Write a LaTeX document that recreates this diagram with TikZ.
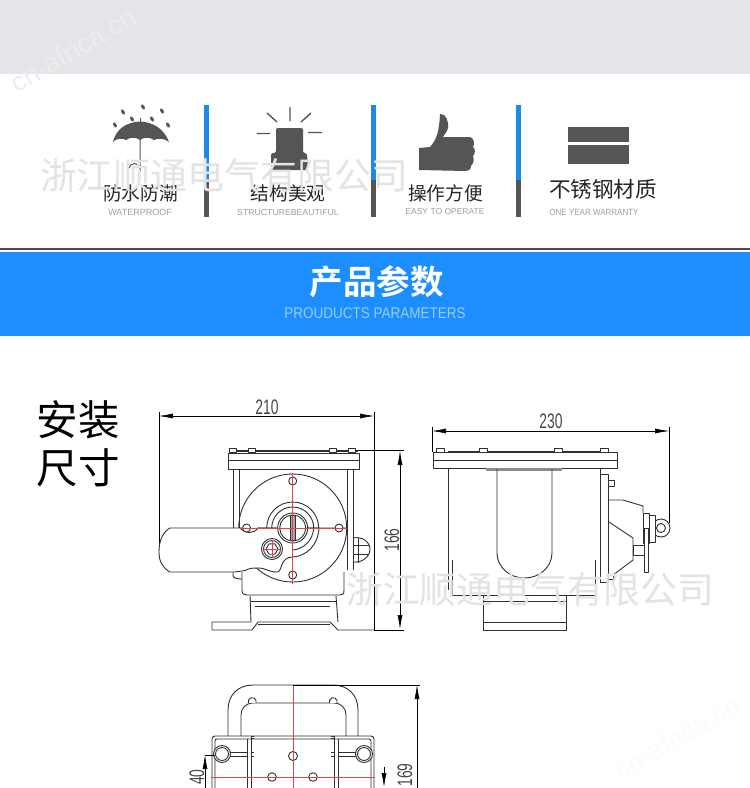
\documentclass[tikz,border=0pt]{standalone}
\usepackage{graphicx}
\usepackage{fontspec}
\setmainfont{Liberation Sans}
\newfontfamily\cjk{Noto Sans CJK SC}
\newfontfamily\cjkb{Noto Sans CJK SC Bold}
\usetikzlibrary{arrows.meta}
\definecolor{blueband}{HTML}{1C8EFF}
\definecolor{barblue}{HTML}{1E88E5}
\definecolor{icon}{HTML}{555555}
\definecolor{linec}{HTML}{303030}
\definecolor{redc}{HTML}{E8404A}
\definecolor{topgray}{HTML}{E4E5E8}
\newcommand{\narrow}[2]{\scalebox{#1}[1]{#2}}
\tikzset{
 draft/.style={draw=linec,line width=.9pt,line join=round},
 redline/.style={draw=redc,line width=.9pt},
 dimline/.style={draw=black,line width=.6pt},
 dimarrow/.style={dimline,{Latex[length=14pt,width=5pt]}-{Latex[length=14pt,width=5pt]}},
 drop/.style={fill=icon,draw=none},
 cntitle/.style={font=\cjk\fontsize{18.7}{18.7}\selectfont,text=black!85,inner sep=0pt},
 entitle/.style={text=black!38,inner sep=0pt},
 dimtext/.style={font=\fontsize{21}{21}\selectfont,text=black!72,inner sep=0pt},
 watermark/.style={font=\cjk\fontsize{36.8}{36.8}\selectfont,text=black!11,inner sep=0pt,anchor=west},
 webmark/.style={font=\fontsize{27}{27}\selectfont,inner sep=0pt,rotate=30},
 bigcn/.style={font=\cjk\fontsize{41.5}{41.5}\selectfont,text=black,inner sep=0pt},
 bar/.style={line width=4.5pt},
}
\begin{document}
\begin{tikzpicture}[x=1pt,y=-1pt]
\useasboundingbox (0,0) rectangle (750,788);
\fill[white] (0,0) rectangle (750,788);
\fill[topgray] (0,0) rectangle (750,74);
\fill[black!70] (0,248.3) rectangle (750,250);
\fill[blueband] (0,251.5) rectangle (750,335.5);
% web watermark
\node[webmark,text=white!30!topgray] (w3) at (73,50) {cn-africa.cn};
\node[webmark,text=black!1.5] (w4) at (677,737) {cn-africa.cn};
% separators
\foreach \x in {206.7,373.3,518.7}{
 \draw[bar,barblue] (\x,105) -- (\x,180);
 \draw[bar,icon] (\x,180) -- (\x,217);
}
% umbrella
\fill[icon] (113,142) .. controls (116,128) and (128,122) .. (140,121.5) .. controls (152,122) and (164,128) .. (169,142)
 .. controls (164,138) and (158,138) .. (154,140) .. controls (150,137) and (144,137) .. (140,140)
 .. controls (136,137) and (130,137) .. (126,140) .. controls (122,138) and (117,138) .. (113,142) -- cycle;
\draw[icon,line width=1pt] (140,118) -- (140,122);
\draw[icon,line width=1pt] (140,139) -- (140,169) arc (0:-170:5.5);
\foreach \a/\b in {123/112,143/107,162/111,132/119,152/119,115/125,168/125}{
 \fill[drop,rotate around={30:(\a,\b)}] (\a,\b) ellipse (1.6 and 2.8);
}
% beacon
\draw[icon,line width=1.4pt] (290,107)--(290,121) (267,113)--(277,122) (311,113)--(301,122) (257,133.5)--(270,133.5) (308,132.5)--(322,132.5);
\fill[icon,rounded corners=2pt] (276,153) -- (276,128) -- (303,128) -- (303,153) -- (307,153) -- (308,170) -- (271,170) -- (271,153) -- cycle;
% thumb
\fill[icon] (419,148) -- (430,147) .. controls (436,140) and (439,134) .. (440,114) .. controls (446,113) and (449,122) .. (448,128) .. controls (447,132) and (444,135) .. (443,137) -- (470,137) .. controls (474,138) and (475,144) .. (473,147) .. controls (476,149) and (475,154) .. (473,156) .. controls (474,159) and (474,163) .. (471,166) .. controls (471,170) and (468,171) .. (466,171) -- (419,170) -- cycle;
% steel
\fill[icon] (568,127) rectangle (629,142);
\fill[icon] (568,145) rectangle (629,164);
% feature labels
\node[cntitle] (t1) at (140.5,193) {防水防潮};
\node[entitle,font=\fontsize{9}{9}\selectfont] (e1) at (140,212) {WATERPROOF};
\node[cntitle] (t2) at (288,193) {结构美观};
\node[entitle,font=\fontsize{8.7}{8.7}\selectfont] (e2) at (288,212) {STRUCTUREBEAUTIFUL};
\node[cntitle] (t3) at (445.5,193) {操作方便};
\node[entitle,font=\fontsize{8.5}{8.5}\selectfont] (e3) at (445,212) {EASY TO OPERATE};
\node[cntitle,font=\cjk\fontsize{21.6}{21.6}\selectfont] (t4) at (603,189) {不锈钢材质};
\node[entitle,font=\fontsize{9}{9}\selectfont] (e4) at (594,212) {\narrow{.89}{ONE YEAR WARRANTY}};
% banner
\node[font=\cjkb\fontsize{33.5}{33.5}\selectfont,text=white,inner sep=0pt] (b1) at (376.5,282) {产品参数};
\node[font=\fontsize{15.5}{15.5}\selectfont,text=white!55!blueband,inner sep=0pt] (b2) at (375,313.5) {\narrow{.87}{PROUDUCTS PARAMETERS}};
% big
\node[bigcn] (s1) at (78,420) {安装};
\node[bigcn] (s2) at (78,468) {尺寸};

% ===== front view
\draw[dimarrow] (159,416) -- (374,416);
\draw[dimline] (159,412) -- (159,553) (374,412) -- (374,630);
\node[dimtext] (d210) at (267,407) {\narrow{.66}{210}};
\draw[dimline] (352,450.5) -- (404,450.5) (374,630) -- (404,630);
\draw[dimarrow] (400,451) -- (400,629);
\node[dimtext,rotate=90] (d166) at (392,540) {\narrow{.66}{166}};
% plate
\draw[draft] (228,453) rectangle (359,469);
\draw[draft] (228,460) -- (359,460);
\draw[draft,line width=1.1pt] (229,451) -- (358,451);
\foreach \x in {233,252,333,352}{ \draw[draft,fill=white] (\x-3.5,448.5) rectangle (\x+3.5,452); }
% body walls
\draw[draft] (233,469) -- (233,528) (239,469) -- (239,528);
\draw[draft] (347,469) -- (347,570) (353,469) -- (353,570);
\draw[draft] (242,572) -- (242,590) .. controls (242,594) and (244,595) .. (247,595) -- (340,595) .. controls (343,595) and (344,594) .. (344,590) -- (344,572);
\draw[draft] (233,572) -- (233,575) .. controls (233,578) and (236,579) .. (242,579);
% foot
\draw[draft] (250,596) -- (251,622) -- (212,622) -- (212,630) -- (252,630) -- (258,622) -- (330,622) -- (338,630) -- (374,630);
\draw[draft] (336,596) -- (338,622);
\draw[draft] (250,601) -- (336,601);
\draw[draft] (255,606) -- (330,606);
\draw[draft] (258,624) -- (330,624);
% big disc
\draw[draft] (292.7,528) circle (54);
% handle
\filldraw[draft,fill=white] (240,528) -- (170,528) .. controls (163,532) and (159,540) .. (159,552) .. controls (159,562) and (163,568) .. (170,572) -- (235,572) -- (242,571) .. controls (250,570) and (245,568) .. (258,568) .. controls (266,568) and (268,572) .. (277,572) .. controls (283,572) and (279,557) .. (293,557) .. controls (306,556) and (318,546) .. (319,528) -- cycle;
\draw[draft] (240,528) .. controls (246,534) and (254,534) .. (258,528) -- (346,528);
\draw[white,line width=1.4pt] (244,528) -- (257,528);
\draw[draft] (293,550) .. controls (304,549) and (313,540) .. (313.7,528);
% hub
\draw[draft] (266.7,528) arc (180:0:26pt);
\draw[draft] (271.7,528) arc (180:0:21pt);
\draw[draft,fill=white] (292.7,528) circle (15);
\draw[draft] (292.7,528) circle (13);
\draw[draft,fill=black!35] (290.5,515) rectangle (295,540);
% holes
\foreach \x/\y in {292.7/481,292.7/575,246.6/528,339/528}{ \draw[draft,fill=white] (\x,\y) circle (4); }
% hex bolt
\draw[draft,fill=white] (272,549) circle (10.5);
\draw[draft] (272,549) circle (8.5);
\draw[draft] (278,549)--(275,554.2)--(269,554.2)--(266,549)--(269,543.8)--(275,543.8)--cycle;
\draw[redline] (263,549) -- (281,549) (272,540) -- (272,558);
% gland
\draw[draft] (353,538) .. controls (362,536) and (370,542) .. (370,549) .. controls (370,557) and (362,563) .. (353,562);
\draw[draft] (358,537.5) -- (358,562.5) (353,545) -- (369,545) (353,554) -- (369,554);
% red cross
\draw[redline] (292.7,473) -- (292.7,584) (240,528) -- (347,528);

% ===== side view
\draw[dimarrow] (432,431) -- (669,431);
\draw[dimline] (432,427) -- (432,452) (669,427) -- (669,523);
\node[dimtext] (d230) at (551,421) {\narrow{.66}{230}};
\draw[draft] (433,452) rectangle (617,468);
\draw[draft] (433,460) -- (617,460);
\draw[draft] (448,451) -- (600,451);
\foreach \x in {440,483,558,604}{ \draw[draft,fill=white] (\x-4,448) rectangle (\x+4,452); }
\draw[draft] (448,468) -- (448,590) (600,468) -- (600,582);
\draw[draft] (452,560) -- (452,595) -- (595,595) -- (595,560);
\draw[draft] (483,595) rectangle (566,630);
\draw[draft] (483,601) -- (566,601) (483,622) -- (566,622);
\fill[black!45] (486,468) rectangle (562,470.5);
\draw[draft] (497,469) -- (497,553) arc (180:0:27.5pt and -25pt) -- (552,469);
\draw[draft] (600,474) rectangle (608,582);
\draw[draft] (608,480) rectangle (614,486);
\draw[draft] (608,575) rectangle (613,579);
\draw[draft] (609,500) -- (623,500) -- (643,506) -- (643,513);
\draw[draft] (609,522) -- (633,538) -- (633,560) -- (613,575);
\draw[draft,fill=white] (661,528) circle (9);
\draw[draft,fill=white] (661,528) circle (4.5);
\draw[draft,fill=white] (643,513) rectangle (649,543);
\draw[draft,fill=white] (649,515) rectangle (655,542);
\draw[draft,fill=white] (633,545) rectangle (644,555);
\draw[draft,fill=white] (644,528) rectangle (648,572);

% ===== bottom view
\begin{scope}
\clip (0,670) rectangle (750,788);
\draw[draft] (228,736) -- (228,710) .. controls (228,695) and (238,685) .. (253,685) -- (333,685) .. controls (348,685) and (358,695) .. (358,710) -- (358,736);
\draw[draft] (241,736) -- (241,715) .. controls (241,708) and (246,703) .. (253,703) -- (334,703) .. controls (341,703) and (346,708) .. (346,715) -- (346,736);
\draw[draft,fill=white] (248.5,703) arc (200:-20:4pt);
\draw[draft,fill=white] (329.5,703) arc (200:-20:4pt);
\draw[draft,rounded corners=3pt] (212,800) -- (212,736) -- (374,736) -- (374,800);
\draw[draft,rounded corners=2pt] (215,800) -- (215,739) -- (371,739) -- (371,800);
\draw[draft] (247,739) -- (247,800) (251,736) -- (251,800) (334,736) -- (334,800) (338,739) -- (338,800);
\draw[draft] (251,736) -- (254,736) (251,738.5) -- (254,738.5) (331,736) -- (334,736) (331,738.5) -- (334,738.5);
\draw[draft] (251,752) -- (254,752) (251,756) -- (254,756) (331,752) -- (334,752) (331,756) -- (334,756);
\draw[draft] (228,752) -- (247,752) (228,756) -- (247,756) (338,752) -- (358,752) (338,756) -- (358,756);
\foreach \x in {222,364}{ \draw[draft,fill=white] (\x,754) circle (8.5); \draw[draft] (\x,754) circle (6.5); }
\draw[draft] (293,756) circle (4.5);
\draw[draft] (272,777) circle (4.3);
\draw[draft] (313,777) circle (4.3);
\draw[redline] (293,685) -- (293,800) (211,777) -- (375,777);
\draw[dimline] (293,685) -- (420,685);
\draw[dimline,{Latex[length=14pt,width=5pt]}-] (417,685) -- (417,800);
\draw[dimline,{Latex[length=14pt,width=5pt]}-] (205,755) -- (205,800);
\draw[dimline] (205,755) -- (215,755);
\draw[dimline,-{Latex[length=14pt,width=5pt]}] (384,767) -- (384,787);
\node[dimtext,rotate=90] (d169) at (405,775) {\narrow{.66}{169}};
\node[dimtext,rotate=90] (d40) at (197,777) {\narrow{.66}{40}};
\end{scope}

% watermarks
\node[watermark] (w1) at (40,176) {浙江顺通电气有限公司};
\node[watermark] (w2) at (346,590) {浙江顺通电气有限公司};
\end{tikzpicture}
\end{document}
